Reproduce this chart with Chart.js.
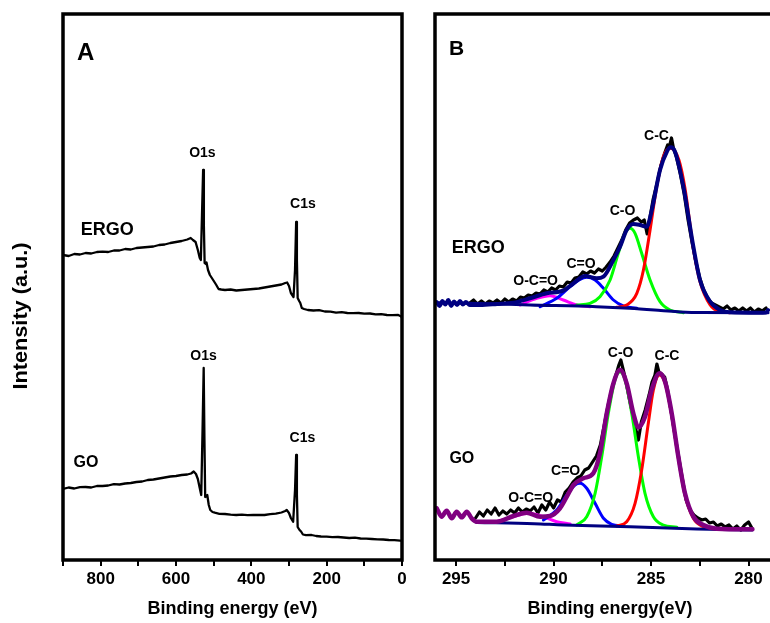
<!DOCTYPE html>
<html>
<head>
<meta charset="utf-8">
<script src="https://cdn.jsdelivr.net/npm/chart.js@4.4.1/dist/chart.umd.min.js"></script>
<style>
  html, body { margin: 0; padding: 0; background: #fff; overflow: hidden; }
  body { width: 770px; height: 623px; position: relative; }
  canvas { position: absolute; top: 0; }
  #surveyChart { left: 0; }
  #c1sChart { left: 420px; }
</style>
</head>
<body>
<canvas id="surveyChart" width="420" height="623"></canvas>
<canvas id="c1sChart" width="380" height="623"></canvas>
<script>
// ---- data: [binding energy (eV), intensity (a.u.)] ----
const surveyErgo = [[900,305],[885,304],[870,306],[855,305.5],[840,307],[825,306.5],[810,308],[795,308.3],[780,308],[765,309.5],[750,309.5],[735,311],[720,310.5],[705,312],[690,312.5],[675,313],[660,313.5],[645,315],[630,315.5],[615,317],[600,318],[585,319],[570,320.5],[561,322],[555,320],[548,318],[542,310],[537,302],[534,300],[531,345],[528,390],[526,335],[524,297],[521,296],[519,297.5],[515,290],[510,285],[504,281.5],[498,278],[493,275],[487,271],[480,270.5],[470,270],[455,270.5],[440,269.5],[425,270],[410,270.5],[395,271],[380,271.5],[365,272.5],[350,273.5],[335,274.5],[320,275.5],[310,277],[305,277.5],[300,274],[295,267],[288,263],[284,290],[281,338],[279,300],[277,262],[273,259],[270,257],[266,252],[260,251],[250,250],[235,249.5],[220,249.8],[205,248.5],[190,248.3],[175,247.3],[160,247.8],[145,247],[130,246.8],[115,247],[100,246.3],[85,246.5],[70,245.6],[55,245.8],[40,245],[25,244.8],[10,245],[2,243.5],[0,242]];
const surveyGo = [[900,71],[885,72.5],[870,71.5],[855,72.8],[840,73],[825,72.5],[810,74],[795,74],[780,74.5],[765,75.8],[750,75.5],[735,76.5],[720,77],[705,78],[690,78.5],[675,80],[660,80.5],[645,81.5],[630,82.5],[615,83.5],[600,84],[585,85],[570,85.5],[560,86.5],[553,88.5],[547,86],[542,81],[537,72],[533,65],[529.5,130],[526.5,192],[524.5,120],[522.5,63],[520,64],[517,65],[513,55],[509,50],[503,48],[497,47.3],[485,46.2],[470,46],[455,45.3],[440,45],[425,45.4],[410,44.8],[395,45],[380,45.2],[365,45],[350,45.8],[335,46.3],[320,47.5],[310,49],[306,50],[300,47],[295,42],[289,38.3],[284,70],[281,105],[279,65],[277,33],[272,30],[268,28.5],[263,25.5],[255,24.8],[240,25],[228,24],[215,23.5],[200,23.3],[185,22.8],[170,23],[155,22.5],[140,22],[125,22.3],[110,21.5],[95,21.3],[80,21],[65,20.6],[50,20.5],[35,20],[20,19.8],[5,19.4],[0,19.2]];

const ergoData = [[294.3,257],[294.1,260],[293.9,256],[293.7,259],[293.5,256],[293.3,259],[293.1,257],[292.9,260],[292.7,257],[292.5,261],[292.3,258],[292.1,261],[291.9,259],[291.7,263],[291.5,262],[291.3,265],[291.1,264],[290.9,267],[290.7,266],[290.5,270],[290.3,268],[290.1,272],[289.9,270],[289.7,274],[289.5,273],[289.3,278],[289.1,277],[288.9,282],[288.7,283],[288.5,288],[288.3,286],[288.1,289],[287.9,287],[287.7,291],[287.5,289],[287.3,293],[287.1,298],[286.9,304],[286.7,312],[286.5,320],[286.3,330],[286.1,337],[285.9,340],[285.7,342],[285.5,338],[285.35,340],[285.2,326],[285.05,343],[284.9,360],[284.7,376],[284.5,394],[284.3,407],[284.15,415],[284.05,414],[283.95,422],[283.85,412],[283.7,403],[283.5,386],[283.3,366],[283.1,340],[282.9,318],[282.7,298],[282.5,282],[282.3,270],[282.1,262],[281.9,257],[281.7,255],[281.5,253],[281.3,251],[281.1,254],[280.9,250],[280.7,252],[280.5,249],[280.3,252],[280.1,249],[279.9,252],[279.7,248],[279.5,251],[279.3,249],[279.1,252]];
const ergoEnvelope = [[296.0,258],[295.85,254],[295.7,259],[295.55,255.5],[295.4,260],[295.25,254],[295.1,258.5],[294.95,255],[294.8,259],[294.65,255.5],[294.5,258],[294.3,255],[293.77,255],[292.9,256],[292.06,257.3],[291.21,261.7],[290.35,266.7],[289.5,269.3],[288.98,276.7],[288.38,284],[287.79,281.7],[287.44,283.3],[286.93,300],[286.59,313.3],[286.25,330],[285.91,336],[285.56,335],[285.22,333.3],[284.96,350],[284.54,390],[284.19,408.3],[283.99,412.7],[283.77,408.3],[283.34,373.3],[282.83,313.3],[282.49,280],[281.97,258.3],[281.46,250],[280.95,247.7],[279.5,247.3],[279.1,247.5],[279.0,250]];
const ergoBaseline = [[296.0,257.3],[293.8,256.5],[291.2,255],[287.8,253.3],[286.1,251.7],[284.5,249.5],[283.5,248],[282.3,247.4],[279.0,247.3]];
const ergoCC = [[286.76,252.7],[286.25,255],[285.73,266.7],[285.39,290],[285.05,330],[284.71,373.3],[284.37,403.3],[283.99,411.7],[283.57,400],[283.26,371.7],[282.83,311.7],[282.49,278.3],[281.97,255],[281.46,248.3],[280.95,247.3]];
const ergoCO = [[288.81,255],[288.13,256.7],[287.62,263.3],[287.10,280],[286.68,306.7],[286.33,326.7],[286.08,331.7],[285.82,326.7],[285.48,306.7],[285.05,280],[284.54,258.3],[284.03,250],[283.34,247.3]];
const ergoCdO = [[290.69,253.3],[289.84,261.7],[289.15,273.3],[288.64,280.7],[288.30,282.7],[287.87,280],[287.44,271.7],[286.93,260],[286.42,254],[285.73,251.7]];
const ergoOCdO = [[291.72,255],[290.86,261.7],[290.18,264.3],[289.50,260],[288.81,255],[288.13,253.3]];

const goData = [[294.0,42],[293.8,48],[293.6,44],[293.4,50],[293.2,46],[293.0,52],[292.8,45],[292.6,49],[292.4,46],[292.2,50],[292.0,47],[291.8,52],[291.6,48],[291.4,51],[291.2,49],[291.0,53],[290.8,47],[290.6,55],[290.4,50],[290.2,58],[290.0,52],[289.8,60],[289.6,58],[289.4,68],[289.2,72],[289.0,78],[288.8,82],[288.6,84],[288.4,90],[288.2,92],[288.0,98],[287.8,104],[287.6,115],[287.4,135],[287.2,155],[287.0,172],[286.8,185],[286.65,195],[286.55,200],[286.45,192],[286.3,180],[286.1,160],[285.9,142],[285.75,128],[285.65,120],[285.5,138],[285.3,150],[285.1,165],[284.95,178],[284.8,185],[284.7,196],[284.6,188],[284.45,186],[284.3,183],[284.15,170],[284.0,152],[283.8,128],[283.6,105],[283.4,82],[283.2,60],[283.0,50],[282.8,45],[282.6,42],[282.4,40],[282.2,41],[282.0,37],[281.8,38],[281.6,34],[281.4,36],[281.2,33],[281.0,35],[280.8,31],[280.6,34],[280.4,30],[280.2,35],[280.0,38],[279.8,31]];
const goEnvelope = [[295.99,51.7],[295.74,43.3],[295.48,49.3],[295.22,41.7],[294.97,48.3],[294.71,42.7],[294.45,48.3],[294.2,41.7],[293.94,38.3],[292.92,38.3],[292.06,44],[291.38,47.3],[290.69,43.3],[290.18,44],[289.67,51.7],[289.32,63.3],[288.98,75],[288.47,81.7],[287.96,86.7],[287.62,106.7],[287.27,146.7],[286.93,176.7],[286.59,190],[286.25,176.7],[285.91,146.7],[285.65,132.7],[285.31,143.3],[284.97,170],[284.57,186.7],[284.28,178.3],[283.94,146.7],[283.6,103.3],[283.26,66.7],[282.83,43.3],[282.32,35],[281.63,31.3],[279.8,30.7]];
const goBaseline = [[293.94,37.5],[291.0,36.3],[289.5,35],[286.08,33.3],[282.66,31],[279.8,30]];
const goCC = [[286.76,34],[286.25,38.3],[285.82,56.7],[285.48,90],[285.14,136.7],[284.88,170],[284.57,185],[284.28,176.7],[283.94,145],[283.6,101.7],[283.26,65],[282.83,41.7],[282.32,33.3],[281.63,31]];
const goCO = [[288.81,35],[288.3,43.3],[287.87,66.7],[287.53,103.3],[287.19,146.7],[286.85,180],[286.59,188.3],[286.33,180],[285.99,146.7],[285.65,103.3],[285.31,66.7],[284.88,43.3],[284.37,35],[283.68,32.7]];
const goCdO = [[290.52,40],[289.84,50],[289.32,65],[288.9,75],[288.64,76.7],[288.3,71.7],[287.87,56.7],[287.44,41.7],[287.02,35.7],[286.42,34]];
const goOCdO = [[292.92,38.3],[292.06,43.3],[291.29,46.7],[290.52,43.3],[289.84,38.3],[289.15,36]];

const surveyTicks = [800, 600, 400, 200, 0];
const c1sTicks = [295, 290, 285, 280];

// annotation text: [text, energy, intensity, font px, align]
const surveyNotes = [['ERGO', 853, 325, 18, 'left'], ['O1s', 530, 403, 14, 'center'], ['C1s', 263, 352, 14, 'center'],
  ['GO', 872, 93, 16, 'left'], ['O1s', 527, 200, 14, 'center'], ['C1s', 264.5, 118, 14, 'center']];
const c1sNotes = [['ERGO', 295.22, 307, 18, 'left'], ['O-C=O', 290.92, 275, 14, 'center'], ['C=O', 288.59, 292, 14, 'center'],
  ['C-O', 286.46, 345, 14, 'center'], ['C-C', 284.72, 420, 14, 'center'],
  ['GO', 295.34, 97, 16, 'left'], ['O-C=O', 291.17, 58, 14, 'center'], ['C=O', 289.38, 85, 14, 'center'],
  ['C-O', 286.56, 203, 14, 'center'], ['C-C', 284.18, 200, 14, 'center']];

const FONT = "'Liberation Sans', Arial, sans-serif";

function line(points, color, width, smooth) {
  return {
    data: points.map(([x, y]) => ({ x, y })),
    borderColor: color,
    borderWidth: width,
    pointRadius: 0,
    fill: false,
    tension: 0,
    cubicInterpolationMode: smooth ? 'monotone' : 'default',
    borderJoinStyle: 'round',
    borderCapStyle: 'round'
  };
}

function decor(letter, letterSize, letterY, notes, yTitle) {
  return {
    id: 'decor' + letter,
    afterDatasetsDraw(chart) {
      const { ctx, chartArea: a, scales: { x, y } } = chart;
      ctx.save();
      ctx.strokeStyle = '#000';
      ctx.lineWidth = 3.5;
      ctx.strokeRect(a.left, a.top, a.right - a.left, a.bottom - a.top);
      ctx.fillStyle = '#000';
      ctx.textBaseline = 'alphabetic';
      ctx.textAlign = 'left';
      ctx.font = `bold ${letterSize}px ${FONT}`;
      ctx.fillText(letter, a.left + 14, letterY);
      notes.forEach(([t, e, i, size, align]) => {
        ctx.font = `bold ${size}px ${FONT}`;
        ctx.textAlign = align;
        ctx.fillText(t, x.getPixelForValue(e), y.getPixelForValue(i));
      });
      if (yTitle) {
        ctx.font = `bold 20px ${FONT}`;
        const w = ctx.measureText(yTitle).width;
        ctx.translate(21, 316);
        ctx.rotate(-Math.PI / 2);
        ctx.scale(147 / w, 1);
        ctx.textAlign = 'center';
        ctx.textBaseline = 'middle';
        ctx.fillText(yTitle, 0, 0);
      }
      ctx.restore();
    }
  };
}

function xAxis(min, max, step, labelled, title) {
  return {
    type: 'linear',
    min: min,
    max: max,
    reverse: true,
    border: { display: false },
    grid: { drawOnChartArea: false, drawTicks: true, tickLength: 6, lineWidth: 2, color: '#000' },
    ticks: {
      stepSize: step,
      includeBounds: false,
      autoSkip: false,
      maxRotation: 0,
      padding: 3,
      color: '#000',
      font: { family: FONT, size: 17, weight: 'bold' },
      callback: (v) => labelled.includes(v) ? String(v) : ''
    },
    title: {
      display: true,
      text: title,
      color: '#000',
      font: { family: FONT, size: 18, weight: 'bold' },
      padding: { top: 0, bottom: 3 }
    },
    afterFit: (scale) => { scale.height = 63; }
  };
}

const yAxis = { display: false, min: 0, max: 546 };

new Chart(document.getElementById('surveyChart'), {
  type: 'line',
  data: {
    datasets: [
      line(surveyErgo, '#000', 2.3, false),
      line(surveyGo, '#000', 2.3, false)
    ]
  },
  options: {
    responsive: false,
    animation: false,
    events: [],
    layout: { padding: { left: 63, right: 18, top: 14, bottom: 0 } },
    plugins: { legend: { display: false }, tooltip: { enabled: false } },
    scales: { x: xAxis(0, 900, 100, surveyTicks, 'Binding energy (eV)'), y: yAxis }
  },
  plugins: [decor('A', 24, 60, surveyNotes, 'Intensity (a.u.)')]
});

// Chart.js paints the first dataset last, so the list runs top layer first:
// envelopes, baselines, fitted components, then the raw data underneath
new Chart(document.getElementById('c1sChart'), {
  type: 'line',
  data: {
    datasets: [
      line(ergoEnvelope, '#000080', 4, true),
      line(goEnvelope, '#800080', 4.5, true),
      line(ergoBaseline, '#000080', 3, true),
      line(goBaseline, '#000080', 3, true),
      line(ergoCC, '#ff0000', 3, true),
      line(ergoCO, '#00ff00', 3, true),
      line(ergoCdO, '#0000ff', 3, true),
      line(ergoOCdO, '#ff00ff', 3, true),
      line(goCC, '#ff0000', 3, true),
      line(goCO, '#00ff00', 3, true),
      line(goCdO, '#0000ff', 3, true),
      line(goOCdO, '#ff00ff', 3, true),
      line(ergoData, '#000', 3.2, false),
      line(goData, '#000', 3.2, false)
    ]
  },
  options: {
    responsive: false,
    animation: false,
    events: [],
    layout: { padding: { left: 15, right: 15, top: 14, bottom: 0 } },
    plugins: { legend: { display: false }, tooltip: { enabled: false } },
    scales: { x: xAxis(278.13, 296.08, 2.5, c1sTicks, 'Binding energy(eV)'), y: yAxis }
  },
  plugins: [decor('B', 21, 55, c1sNotes, null)]
});
</script>
</body>
</html>
